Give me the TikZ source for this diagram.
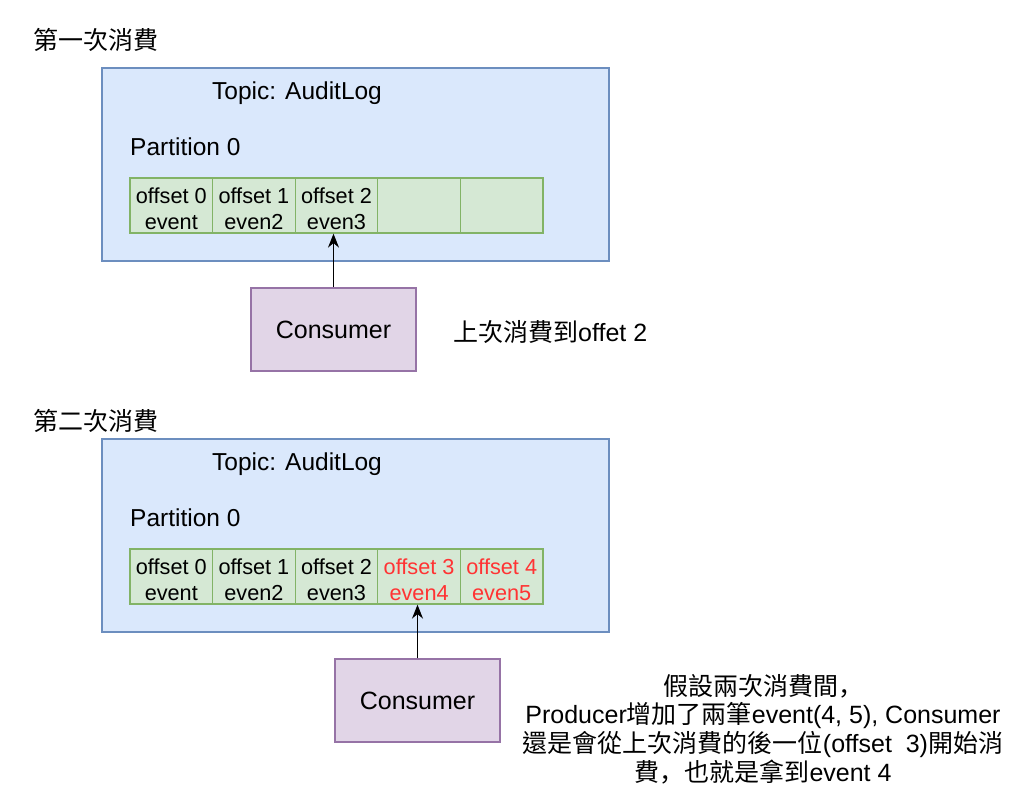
\documentclass[tikz,border=0pt]{standalone}
\usepackage{fontspec}
\setmainfont{Liberation Sans}
\newfontfamily\cj{Noto Sans CJK TC}
\newfontfamily\cjsc{Noto Sans CJK SC}
\usetikzlibrary{arrows.meta,positioning}
\definecolor{topicfill}{HTML}{DAE8FC}
\definecolor{topicline}{HTML}{6C8EBF}
\definecolor{cellfill}{HTML}{D5E8D4}
\definecolor{cellline}{HTML}{82B366}
\definecolor{consfill}{HTML}{E1D5E7}
\definecolor{consline}{HTML}{9673A6}
\definecolor{newred}{HTML}{FF3333}
\tikzset{
  topicbox/.style={draw=topicline,fill=topicfill,line width=1.3pt,minimum width=507pt,minimum height=193pt,inner sep=0pt},
  cellbox/.style={draw=cellline,fill=cellfill,line width=1.3pt,minimum width=82.6pt,minimum height=55pt,inner sep=0pt},
  celltext/.style={inner sep=0pt,align=center,yshift=-3pt,font=\fontsize{21.7}{26}\selectfont},
  consbox/.style={draw=consline,fill=consfill,line width=1.3pt,minimum width=165pt,minimum height=83pt,inner sep=0pt,font=\fontsize{25}{28}\selectfont},
  lbl/.style={inner sep=0pt,font=\fontsize{24.5}{28.7}\selectfont},
  big/.style={inner sep=0pt,font=\fontsize{25}{28.7}\selectfont},
  conn/.style={line width=1.3pt,-{Stealth[length=14pt,width=11pt]}}
}
\begin{document}
\begin{tikzpicture}[x=1pt,y=-1pt]
\useasboundingbox (0,0) rectangle (1024,798);
% ---------- first consumption ----------
\node[big,anchor=west] (t1) at (33,40) {\cj 第一次消費};
\node[topicbox] (topic1) at (355.5,164.5) {};
\node[lbl] (tn1) at (297,93) {Topic: AuditLog};
\node[lbl,anchor=west] (p1) at (130,147) {Partition 0};
\node[cellbox] (a1) at (171.3,205.5) {};
\node[cellbox] (a2) at (253.9,205.5) {};
\node[cellbox] (a3) at (336.5,205.5) {};
\node[cellbox] (a4) at (419.1,205.5) {};
\node[cellbox] (a5) at (501.7,205.5) {};
\node[celltext] (ta1) at (a1) {offset 0\\event};
\node[celltext] (ta2) at (a2) {offset 1\\even2};
\node[celltext] (ta3) at (a3) {offset 2\\even3};
\node[consbox] (c1) at (333.5,329.5) {Consumer};
\draw[conn] (c1.north) -- (c1.north |- a3.south);
\node[big,anchor=west] (n1) at (453,332) {{\cj 上次消費到}offet 2};
% ---------- second consumption ----------
\node[big,anchor=west] (t2) at (33,421) {\cj 第二次消費};
\node[topicbox] (topic2) at (355.5,535.5) {};
\node[lbl] (tn2) at (297,464) {Topic: AuditLog};
\node[lbl,anchor=west] (p2) at (130,518) {Partition 0};
\node[cellbox] (b1) at (171.3,576.5) {};
\node[cellbox] (b2) at (253.9,576.5) {};
\node[cellbox] (b3) at (336.5,576.5) {};
\node[cellbox] (b4) at (419.1,576.5) {};
\node[cellbox] (b5) at (501.7,576.5) {};
\node[celltext] (tb1) at (b1) {offset 0\\event};
\node[celltext] (tb2) at (b2) {offset 1\\even2};
\node[celltext] (tb3) at (b3) {offset 2\\even3};
\node[celltext,text=newred] (tb4) at (b4) {offset 3\\even4};
\node[celltext,text=newred] (tb5) at (b5) {offset 4\\even5};
\node[consbox] (c2) at (417.5,700.5) {Consumer};
\draw[conn] (c2.north) -- (c2.north |- b4.south);
\node[big,align=center] (n2) at (763,729) {{\cj 假設兩次消費間}{\cjsc ，}\\
Producer{\cj 增加了兩筆}event(4, 5), Consumer\\
{\cj 還是會從上次消費的後一位}(offset\ \ 3){\cj 開始消}\\
{\cj 費}{\cjsc ，}{\cj 也就是拿到}event 4};
\end{tikzpicture}
\end{document}
